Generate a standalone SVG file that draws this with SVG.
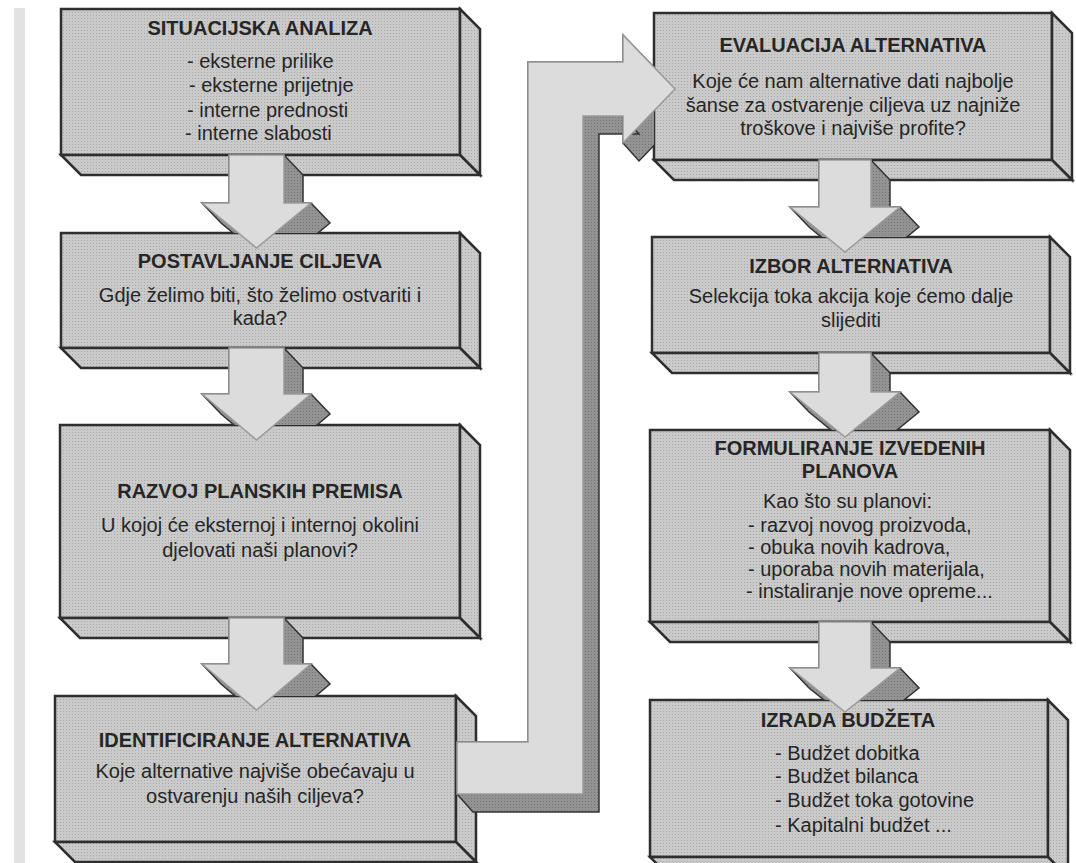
<svg xmlns="http://www.w3.org/2000/svg" width="1076" height="863" viewBox="0 0 1076 863">
<defs>
<pattern id="ht" width="3" height="3" patternUnits="userSpaceOnUse"><rect width="3" height="3" fill="#cacaca"/><rect width="1" height="1" fill="#a8a8a8"/></pattern>
<pattern id="dk" width="3" height="3" patternUnits="userSpaceOnUse"><rect width="3" height="3" fill="#939393"/><rect width="1" height="1" fill="#747474"/></pattern>
<clipPath id="c1"><rect x="0" y="150" width="480" height="83"/></clipPath>
<clipPath id="c2"><rect x="0" y="340" width="480" height="85"/></clipPath>
<clipPath id="c3"><rect x="0" y="610" width="480" height="86"/></clipPath>
<clipPath id="c4"><rect x="600" y="150" width="476" height="87"/></clipPath>
<clipPath id="c5"><rect x="600" y="345" width="476" height="85"/></clipPath>
<clipPath id="c6"><rect x="600" y="615" width="476" height="85"/></clipPath>
<clipPath id="cL"><path clip-rule="evenodd" d="M0 0H1076V863H0Z M654 13H1052L1072 33V180H674L654 160Z"/></clipPath>
</defs>
<style>
.f{fill:url(#ht);stroke:#2e2e2e;stroke-width:2.5;stroke-linejoin:miter}
.sh{fill:url(#dk);stroke:#333;stroke-width:1.5;stroke-linejoin:miter}
.ar{fill:#dcdcdc;stroke:#9a9a9a;stroke-width:1.5;stroke-linejoin:miter}
text{font-family:"Liberation Sans",Arial,sans-serif;font-size:20px;fill:#262626}
.t{font-weight:bold;text-anchor:middle}
.c{text-anchor:middle}
</style>
<rect width="1076" height="863" fill="#ffffff"/>
<rect x="14" y="8" width="11" height="855" fill="#e2e2e2"/>

<g id="situacijska-analiza">
<rect class="f" x="61" y="9" width="399" height="146"/>
<polygon class="f" points="460,9 480,29 480,175 460,155"/>
<polygon class="f" points="61,155 460,155 480,175 81,175"/>
<text class="t" x="260" y="35">SITUACIJSKA ANALIZA</text>
<text x="187" y="68">- eksterne prilike</text>
<text x="189" y="92">- eksterne prijetnje</text>
<text x="187" y="117">- interne prednosti</text>
<text x="185" y="140">- interne slabosti</text>
</g>

<g id="postavljanje-ciljeva">
<rect class="f" x="61" y="233" width="399" height="115"/>
<polygon class="f" points="460,233 480,253 480,368 460,348"/>
<polygon class="f" points="61,348 460,348 480,368 81,368"/>
<text class="t" x="260" y="268">POSTAVLJANJE CILJEVA</text>
<text class="c" x="260" y="302">Gdje želimo biti, što želimo ostvariti i</text>
<text class="c" x="260" y="325">kada?</text>
</g>

<g id="razvoj-planskih-premisa">
<rect class="f" x="60" y="425" width="400" height="193"/>
<polygon class="f" points="460,425 480,445 480,638 460,618"/>
<polygon class="f" points="60,618 460,618 480,638 80,638"/>
<text class="t" x="260" y="498">RAZVOJ PLANSKIH PREMISA</text>
<text class="c" x="260" y="532">U kojoj će eksternoj i internoj okolini</text>
<text class="c" x="260" y="557">djelovati naši planovi?</text>
</g>

<g id="identificiranje-alternativa">
<rect class="f" x="55" y="696" width="401" height="146"/>
<polygon class="f" points="456,696 476,716 476,862 456,842"/>
<polygon class="f" points="55,842 456,842 476,862 75,862"/>
<text class="t" x="255" y="747">IDENTIFICIRANJE ALTERNATIVA</text>
<text class="c" x="255" y="778">Koje alternative najviše obećavaju u</text>
<text class="c" x="255" y="803">ostvarenju naših ciljeva?</text>
</g>

<g id="evaluacija-alternativa">
<rect class="f" x="654" y="13" width="398" height="147"/>
<polygon class="f" points="1052,13 1072,33 1072,180 1052,160"/>
<polygon class="f" points="654,160 1052,160 1072,180 674,180"/>
<text class="t" x="853" y="52">EVALUACIJA ALTERNATIVA</text>
<text class="c" x="853" y="88">Koje će nam alternative dati najbolje</text>
<text class="c" x="853" y="112">šanse za ostvarenje ciljeva uz najniže</text>
<text class="c" x="853" y="135">troškove i najviše profite?</text>
</g>

<g id="izbor-alternativa">
<rect class="f" x="652" y="237" width="398" height="116"/>
<polygon class="f" points="1050,237 1070,257 1070,373 1050,353"/>
<polygon class="f" points="652,353 1050,353 1070,373 672,373"/>
<text class="t" x="851" y="273">IZBOR ALTERNATIVA</text>
<text class="c" x="851" y="303">Selekcija toka akcija koje ćemo dalje</text>
<text class="c" x="851" y="327">slijediti</text>
</g>

<g id="formuliranje-izvedenih-planova">
<rect class="f" x="650" y="430" width="400" height="192"/>
<polygon class="f" points="1050,430 1070,450 1070,642 1050,622"/>
<polygon class="f" points="650,622 1050,622 1070,642 670,642"/>
<text class="t" x="850" y="455">FORMULIRANJE IZVEDENIH</text>
<text class="t" x="850" y="478">PLANOVA</text>
<text x="763" y="508">Kao što su planovi:</text>
<text x="748" y="532">- razvoj novog proizvoda,</text>
<text x="748" y="554">- obuka novih kadrova,</text>
<text x="748" y="576">- uporaba novih materijala,</text>
<text x="746" y="598">- instaliranje nove opreme...</text>
</g>

<g id="izrada-budzeta">
<rect class="f" x="650" y="700" width="398" height="157"/>
<polygon class="f" points="1048,700 1068,720 1068,877 1048,857"/>
<polygon class="f" points="650,857 1048,857 1068,877 670,877"/>
<text class="t" x="848" y="727">IZRADA BUDŽETA</text>
<text x="775" y="760">- Budžet dobitka</text>
<text x="775" y="783">- Budžet bilanca</text>
<text x="775" y="807">- Budžet toka gotovine</text>
<text x="775" y="832">- Kapitalni budžet ...</text>
</g>

<g id="connectors">
<polygon class="sh" clip-path="url(#c1)" points="229,155 284,155 303,175 303,203 311,203 330,223 275.5,268 221,223 202,203 229,203"/>
<polygon class="ar" points="229,155 284,155 284,203 311,203 256.5,248 202,203 229,203"/>

<polygon class="sh" clip-path="url(#c2)" points="229,348 284,348 303,368 303,394 311,394 330,414 275.5,460 221,414 202,394 229,394"/>
<polygon class="ar" points="229,348 284,348 284,394 311,394 256.5,440 202,394 229,394"/>

<polygon class="sh" clip-path="url(#c3)" points="229,618 284,618 303,638 303,664 311,664 330,684 275.5,730 221,684 202,664 229,664"/>
<polygon class="ar" points="229,618 284,618 284,664 311,664 256.5,710 202,664 229,664"/>

<polygon class="sh" clip-path="url(#c4)" points="819,160 871,160 890,180 890,207 900,207 919,227 864,272 809,227 790,207 819,207"/>
<polygon class="ar" points="819,160 871,160 871,207 900,207 845,252 790,207 819,207"/>

<polygon class="sh" clip-path="url(#c5)" points="819,353 871,353 890,373 890,392 900,392 919,412 864,457 809,412 790,392 819,392"/>
<polygon class="ar" points="819,353 871,353 871,392 900,392 845,437 790,392 819,392"/>

<polygon class="sh" clip-path="url(#c6)" points="819,622 871,622 890,642 890,668 900,668 919,688 864,732 809,688 790,668 819,668"/>
<polygon class="ar" points="819,622 871,622 871,668 900,668 845,712 790,668 819,668"/>

<polygon class="sh" clip-path="url(#cL)" points="675,89 691,107 639,161 623,143 623,116 639,134 599,134 599,812 473,812 457,794 457,742 528,742 528,62 623,62 623,35"/>
<polygon class="ar" points="457,742 528,742 528,62 623,62 623,35 675,89 623,143 623,116 583,116 583,794 457,794"/>
</g>
</svg>
